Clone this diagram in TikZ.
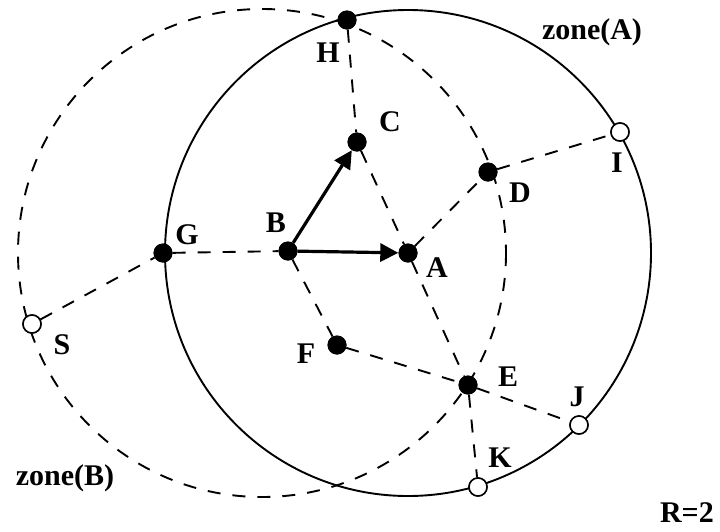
\documentclass[tikz,border=0pt]{standalone}
\usepackage{fontspec}
\setmainfont{Liberation Serif}
\usetikzlibrary{arrows.meta}
\tikzset{
  dot/.style={circle,fill=black,inner sep=0pt,minimum size=19pt},
  opendot/.style={circle,draw=black,fill=white,line width=1.5pt,inner sep=0pt,minimum size=18pt},
  lbl/.style={font=\bfseries\fontsize{30}{30}\selectfont,inner sep=0pt},
  link/.style={line width=1.9pt,dash pattern=on 13pt off 12pt},
  zonecirc/.style={line width=1.9pt},
  zonedash/.style={line width=1.9pt,dash pattern=on 13pt off 12pt},
  move/.style={line width=3.2pt,-{Triangle[length=18pt,width=18pt]}}
}
\begin{document}
\begin{tikzpicture}[x=1pt,y=-1pt]
\useasboundingbox (0,0) rectangle (720,531);
% zones
\draw[zonecirc] (408,253) circle (243);
\draw[zonedash] (262,253) circle (244);
% nodes
\node[dot] (H) at (347,20) {};
\node[dot] (C) at (357,142) {};
\node[dot] (D) at (488,172) {};
\node[opendot] (I) at (620,132) {};
\node[dot] (G) at (163,253) {};
\node[dot] (B) at (288,251) {};
\node[dot] (A) at (408,253) {};
\node[opendot] (S) at (32,324) {};
\node[dot] (F) at (337,345) {};
\node[dot] (E) at (468,385) {};
\node[opendot] (J) at (579,425) {};
\node[opendot] (K) at (478,487) {};
% dashed links
\draw[link] (S) -- (G);
\draw[link] (G) -- (B);
\draw[link] (H) -- (C);
\draw[link] (C) -- (A);
\draw[link] (A) -- (D);
\draw[link] (D) -- (I);
\draw[link] (B) -- (F);
\draw[link] (F) -- (E);
\draw[link] (A) -- (E);
\draw[link] (E) -- (J);
\draw[link] (E) -- (K);
% moves
\draw[move] (B) -- (C);
\draw[move] (B) -- (A);
% redraw dots on top
\node[dot] at (H) {};
\node[dot] at (C) {};
\node[dot] at (D) {};
\node[opendot] at (I) {};
\node[dot] at (G) {};
\node[dot] at (B) {};
\node[dot] at (A) {};
\node[opendot] at (S) {};
\node[dot] at (F) {};
\node[dot] at (E) {};
\node[opendot] at (J) {};
\node[opendot] at (K) {};
% labels
\node[lbl] (lH) at (328,53) {H};
\node[lbl] (lC) at (390,122) {C};
\node[lbl] (lD) at (520,193) {D};
\node[lbl] (lI) at (617,163) {I};
\node[lbl] (lG) at (187,235) {G};
\node[lbl] (lB) at (276,223) {B};
\node[lbl] (lA) at (437,268) {A};
\node[lbl] (lS) at (62,345) {S};
\node[lbl] (lF) at (306,354) {F};
\node[lbl] (lE) at (508,377) {E};
\node[lbl] (lJ) at (577,397) {J};
\node[lbl] (lK) at (500,458) {K};
\node[lbl] (zA) at (592,32) {zone(A)};
\node[lbl] (zB) at (65,478) {zone(B)};
\node[lbl,anchor=east] (R) at (714,513) {R=2};
\end{tikzpicture}
\end{document}
